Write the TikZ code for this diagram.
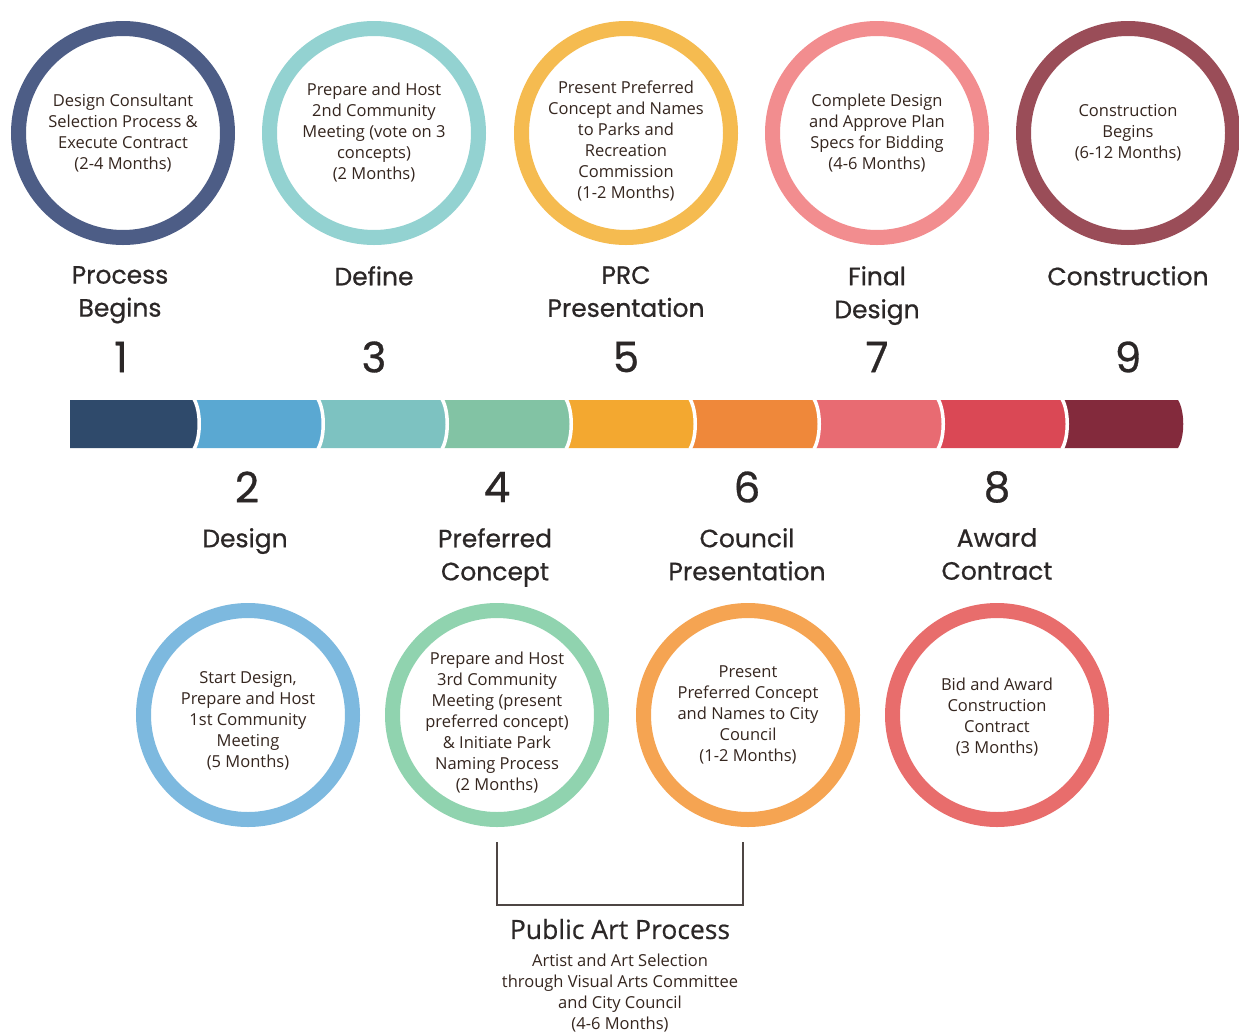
\documentclass[tikz,border=0pt]{standalone}
\usepackage{fontspec}
\setmainfont{Open Sans}
\newfontfamily\headfont[FakeBold=0.7]{Poppins}
\newfontfamily\semifont[FakeBold=0.5]{Open Sans}

% timeline colours
\definecolor{bA}{HTML}{2F4A6B}
\definecolor{bB}{HTML}{5AA8D2}
\definecolor{bC}{HTML}{7DC2C1}
\definecolor{bD}{HTML}{82C3A4}
\definecolor{bE}{HTML}{F3A830}
\definecolor{bF}{HTML}{EF883A}
\definecolor{bG}{HTML}{E86B72}
\definecolor{bH}{HTML}{DA4855}
\definecolor{bI}{HTML}{832A3C}
% ring colours
\definecolor{rA}{HTML}{4D5D86}
\definecolor{rB}{HTML}{93D2D1}
\definecolor{rC}{HTML}{F5BB50}
\definecolor{rD}{HTML}{F28D8F}
\definecolor{rE}{HTML}{9A4D58}
\definecolor{rF}{HTML}{7DB9DF}
\definecolor{rG}{HTML}{90D3AF}
\definecolor{rH}{HTML}{F5A452}
\definecolor{rI}{HTML}{E86D6C}
\definecolor{ink}{HTML}{2B2727}
\definecolor{bodyink}{HTML}{35261F}
\definecolor{brk}{HTML}{4E4644}

\begin{document}
\begin{tikzpicture}[x=1pt,y=-1pt,
  ring/.style={circle,draw=#1,line width=15pt,minimum size=209pt,inner sep=0pt},
  ringtext/.style={align=center,text=bodyink,inner sep=0pt,
    font=\fontsize{16.5}{21}\selectfont},
  heading/.style={align=center,text=ink,inner sep=0pt,anchor=north,
    font=\headfont\fontsize{25}{33}\selectfont},
  stepnum/.style={text=ink,inner sep=0pt,font=\headfont\fontsize{42}{42}\selectfont},
  subtext/.style={align=center,text=bodyink,inner sep=0pt,
    font=\fontsize{16.5}{21}\selectfont},
  gap/.style={draw=white,line width=3.5pt}]
\useasboundingbox (0,0) rectangle (1239,1034);
\fill[white] (0,0) rectangle (1239,1034);

% ---- segmented timeline bar ----
\def\segtop{400}\def\segbot{448}
\newcommand{\seg}[3]{%
  \fill[#3] (#1,\segtop) -- (#2,\segtop)
    .. controls (#2+7,411) and (#2+7,437) .. (#2,\segbot)
    -- (#1,\segbot)
    .. controls (#1+7,437) and (#1+7,411) .. (#1,\segtop) -- cycle;}
\fill[bA] (70,\segtop) -- (194,\segtop)
    .. controls (201,411) and (201,437) .. (194,\segbot) -- (70,\segbot) -- cycle;
\seg{194}{318}{bB}
\seg{318}{442}{bC}
\seg{442}{566}{bD}
\seg{566}{690}{bE}
\seg{690}{814}{bF}
\seg{814}{938}{bG}
\seg{938}{1062}{bH}
\seg{1062}{1178}{bI}
\foreach \b in {194,318,442,566,690,814,938,1062}
  \draw[gap] (\b,\segtop-1) .. controls (\b+7,411) and (\b+7,437) .. (\b,\segbot+1);

% ---- upper row of rings ----
\node[ring=rA] (r1) at (123,133) {};
\node[ring=rB] (r3) at (374,133) {};
\node[ring=rC] (r5) at (626,133) {};
\node[ring=rD] (r7) at (877,133) {};
\node[ring=rE] (r9) at (1128,133) {};

\node[ringtext] (t1) at (r1) {Design Consultant\\Selection Process \&\\Execute Contract\\(2-4 Months)};
\node[ringtext] (t3) at (r3) {Prepare and Host\\2nd Community\\Meeting (vote on 3\\concepts)\\(2 Months)};
\node[ringtext] (t5) at ([yshift=-8pt]r5.center) {Present Preferred\\Concept and Names\\to Parks and\\Recreation\\Commission\\(1-2 Months)};
\node[ringtext] (t7) at (r7) {Complete Design\\and Approve Plan\\Specs for Bidding\\(4-6 Months)};
\node[ringtext] (t9) at (r9) {Construction\\Begins\\(6-12 Months)};

% ---- upper headings and step numbers ----
\node[heading] (h1) at (120,266) {Process\\Begins};
\node[heading] (h3) at (374,266) {Define};
\node[heading] (h5) at (626,266) {PRC\\Presentation};
\node[heading] (h7) at (877,266) {Final\\Design};
\node[heading] (h9) at (1128,266) {Construction};

\node[stepnum] (n1) at (121,357) {1};
\node[stepnum] (n3) at (374,357) {3};
\node[stepnum] (n5) at (626,357) {5};
\node[stepnum] (n7) at (877,357) {7};
\node[stepnum] (n9) at (1128,357) {9};

% ---- lower step numbers and headings ----
\node[stepnum] (n2) at (247,487) {2};
\node[stepnum] (n4) at (497,487) {4};
\node[stepnum] (n6) at (747,487) {6};
\node[stepnum] (n8) at (997,487) {8};

\node[heading] (h2) at (245,528) {Design};
\node[heading] (h4) at (495,528) {Preferred\\Concept};
\node[heading] (h6) at (747,528) {Council\\Presentation};
\node[heading] (h8) at (997,528) {Award\\Contract};

% ---- lower row of rings ----
\node[ring=rF] (r2) at (248,715) {};
\node[ring=rG] (r4) at (497,715) {};
\node[ring=rH] (r6) at (748,715) {};
\node[ring=rI] (r8) at (997,715) {};

\node[ringtext] (t2) at ([yshift=-6pt]r2.center) {Start Design,\\Prepare and Host\\1st Community\\Meeting\\(5 Months)};
\node[ringtext] (t4) at ([yshift=-8pt]r4.center) {Prepare and Host\\3rd Community\\Meeting (present\\preferred concept)\\\& Initiate Park\\Naming Process\\(2 Months)};
\node[ringtext] (t6) at (r6) {Present\\Preferred Concept\\and Names to City\\Council\\(1-2 Months)};
\node[ringtext] (t8) at ([yshift=-2pt]r8.center) {Bid and Award\\Construction\\Contract\\(3 Months)};

% ---- public art bracket ----
\coordinate (bl) at (497,842);
\coordinate (br) at (743,842);
\coordinate (blc) at (497,905);
\coordinate (brc) at (743,905);
\draw[brk,line width=1.8pt] (bl) -- (blc) -- (brc) -- (br);

\node[text=ink,inner sep=0pt,font=\semifont\fontsize{26.5}{30}\selectfont] (pa) at (620,929) {Public Art Process};
\node[subtext,anchor=north] (pat) at (620,954) {Artist and Art Selection\\through Visual Arts Committee\\and City Council\\(4-6 Months)};
\end{tikzpicture}
\end{document}
